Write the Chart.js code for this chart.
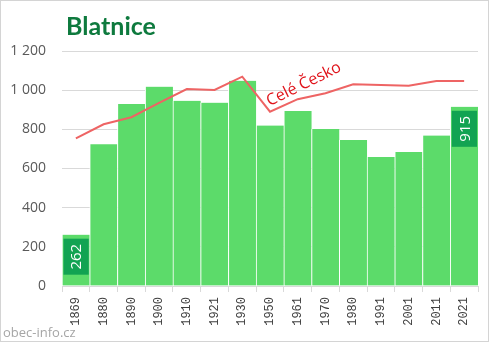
<!DOCTYPE html>
<html>
<head>
<meta charset="utf-8">
<title>Blatnice</title>
<script src="https://cdn.jsdelivr.net/npm/chart.js@4/dist/chart.umd.min.js"></script>
<style>
  html, body { margin: 0; padding: 0; background: #ffffff; }
  #wrap { width: 492px; height: 343px; position: relative; }
</style>
</head>
<body>
<div id="wrap"><canvas id="c" width="492" height="343"></canvas></div>
<script>
// Census years
const years = ['1869','1880','1890','1900','1910','1921','1930','1950','1961','1970','1980','1991','2001','2011','2021'];
// Population of Blatnice
const population = [262, 724, 930, 1018, 946, 936, 1048, 819, 894, 802, 746, 659, 684, 768, 915];
// Whole-country trend rescaled to the village's level
const czechiaScaled = [754, 826, 862, 935, 1006, 1001, 1069, 890, 954, 984, 1030, 1027, 1022, 1047, 1047];
// Bars that carry a value box
const labelledYears = ['1869', '2021'];
// Y axis ticks
const yTicks = [0, 200, 400, 600, 800, 1000, 1200];

const TITLE = 'Blatnice';
const LINE_LABEL = 'Celé Česko';
const SOURCE = 'obec-info.cz';

const fmt = v => String(v).replace(/\B(?=(\d{3})+(?!\d))/g, '\u00a0');

const decor = {
  id: 'decor',
  beforeDraw(chart) {
    const ctx = chart.ctx;
    ctx.save();
    ctx.fillStyle = '#ffffff';
    ctx.fillRect(0, 0, chart.width, chart.height);
    ctx.restore();
  },
  afterDatasetsDraw(chart) {
    const ctx = chart.ctx;
    const barIndex = chart.data.datasets.findIndex(d => d.type === 'bar');
    const meta = chart.getDatasetMeta(barIndex);
    // value boxes inside the first and last bars
    labelledYears.forEach(yr => {
      const i = years.indexOf(yr);
      const bar = meta.data[i];
      const w = bar.width;
      const left = bar.x - w / 2 + 1.5;
      const top = bar.y + 4;
      const bw = w - 2.5, bh = 36;
      ctx.save();
      ctx.fillStyle = '#12a352';
      ctx.fillRect(left, top, bw, bh);
      ctx.translate(left + bw / 2, top + bh / 2);
      ctx.rotate(-Math.PI / 2);
      ctx.fillStyle = '#ffffff';
      ctx.font = '15px "Open Sans"';
      ctx.textAlign = 'center';
      ctx.textBaseline = 'middle';
      ctx.fillText(fmt(population[i]), 0, 1);
      ctx.restore();
    });
    // slanted series name beside the line
    const xs = chart.scales.x, ys = chart.scales.y;
    const x8 = xs.getPixelForValue(8), x9 = xs.getPixelForValue(9);
    const cx = x8 + 0.22 * (x9 - x8);
    const cy = ys.getPixelForValue(1030);
    ctx.save();
    ctx.translate(cx, cy);
    ctx.rotate(-26 * Math.PI / 180);
    ctx.fillStyle = '#e0141b';
    ctx.font = '16px "Open Sans"';
    ctx.textAlign = 'center';
    ctx.textBaseline = 'middle';
    ctx.fillText(LINE_LABEL, 0, 0);
    ctx.restore();
  },
  afterDraw(chart) {
    const ctx = chart.ctx;
    ctx.save();
    // title
    ctx.fillStyle = '#0e7a3e';
    ctx.font = 'bold 25px Lato';
    ctx.textAlign = 'left';
    ctx.textBaseline = 'alphabetic';
    ctx.fillText(TITLE, 66, 35);
    // source
    ctx.fillStyle = '#a6a6a6';
    ctx.font = '13px "Open Sans"';
    ctx.fillText(SOURCE, 3, 337);
    // frame
    ctx.strokeStyle = '#d4d4d4';
    ctx.lineWidth = 1;
    ctx.strokeRect(0.5, 0.5, 488, 341);
    ctx.restore();
  }
};

new Chart(document.getElementById('c'), {
  data: {
    labels: years,
    datasets: [
      {
        type: 'line',
        label: LINE_LABEL,
        data: czechiaScaled,
        borderColor: '#ee6464',
        borderWidth: 2,
        pointRadius: 0,
        tension: 0,
        fill: false,
        order: 0
      },
      {
        type: 'bar',
        label: TITLE,
        data: population,
        backgroundColor: '#5cdb6a',
        borderColor: '#ffffff',
        borderWidth: { left: 1, right: 0, top: 0, bottom: 0 },
        borderSkipped: false,
        categoryPercentage: 1,
        barPercentage: 1,
        order: 1
      }
    ]
  },
  options: {
    responsive: false,
    animation: false,
    devicePixelRatio: 1,
    layout: { padding: { left: 0, top: 51, right: 14, bottom: 0 } },
    plugins: {
      legend: { display: false },
      title: { display: false },
      tooltip: { enabled: false }
    },
    scales: {
      x: {
        offset: true,
        afterFit(scale) { scale.height = 57; },
        grid: {
          offset: true,
          drawOnChartArea: false,
          drawTicks: true,
          tickLength: 6,
          color: '#d9d9d9'
        },
        border: { display: true, color: '#d9d9d9' },
        ticks: {
          minRotation: 90,
          maxRotation: 90,
          autoSkip: false,
          padding: 5,
          color: '#404040',
          font: { family: '"Liberation Mono"', size: 12 }
        }
      },
      y: {
        min: 0,
        max: 1200,
        afterFit(scale) { scale.width = 62; },
        afterBuildTicks(scale) { scale.ticks = yTicks.map(v => ({ value: v })); },
        grid: { color: '#d9d9d9', drawTicks: false },
        border: { display: false },
        ticks: {
          padding: 16,
          color: '#595959',
          font: { family: '"Open Sans"', size: 14 },
          callback: v => fmt(v)
        }
      }
    }
  },
  plugins: [decor]
});
</script>
</body>
</html>
